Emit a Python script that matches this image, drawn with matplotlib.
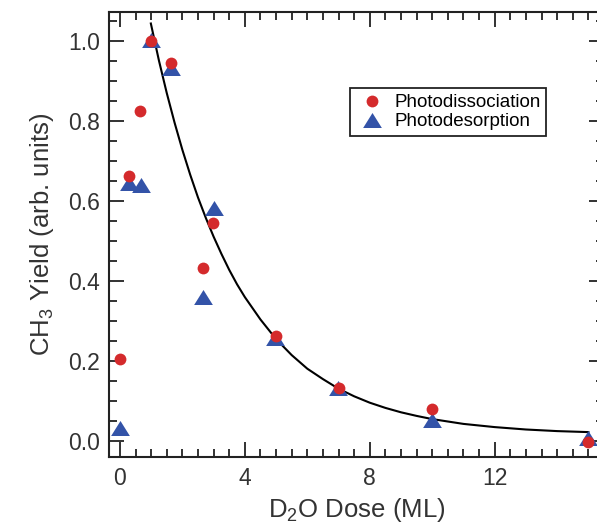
import numpy as np
import matplotlib
matplotlib.use("Agg")
import matplotlib.pyplot as plt
from matplotlib.ticker import MultipleLocator, FormatStrFormatter

plt.rcParams['font.family'] = ['Liberation Sans', 'DejaVu Sans']
plt.rcParams['mathtext.fontset'] = 'custom'
plt.rcParams['mathtext.rm'] = 'Liberation Sans'
plt.rcParams['mathtext.it'] = 'Liberation Sans'

# photodissociation (red circles)
diss_x = [0.0, 0.3, 0.64, 0.98, 1.65, 2.67, 2.99, 5.0, 7.0, 10.0, 15.0]
diss_y = [0.205, 0.662, 0.825, 1.0, 0.944, 0.431, 0.543, 0.263, 0.133, 0.08, -0.004]

# photodesorption (blue triangles)
des_x = [0.0, 0.3, 0.67, 1.0, 1.65, 2.67, 3.0, 4.95, 6.97, 10.0, 15.0]
des_y = [0.031, 0.645, 0.639, 1.003, 0.931, 0.36, 0.583, 0.256, 0.133, 0.053, 0.006]

# fitted decay curve
fit_x = [0.99, 1.25, 1.5, 1.75, 2.0, 2.25, 2.5, 2.75, 3.0, 3.25, 3.5, 3.75, 4.0, 4.5,
         5.0, 5.5, 6.0, 6.5, 7.0, 7.5, 8.0, 8.5, 9.0, 9.5, 10.0, 11.0, 12.0, 13.0, 14.0, 15.0]
fit_y = [1.043, 0.95, 0.869, 0.795, 0.727, 0.665, 0.608, 0.557, 0.51, 0.467, 0.427, 0.391,
         0.359, 0.303, 0.254, 0.214, 0.18, 0.154, 0.13, 0.111, 0.095, 0.082, 0.071, 0.062,
         0.054, 0.042, 0.034, 0.028, 0.024, 0.0215]

red = '#d42a2c'
blue = '#3353a8'
tri = [(0, 0.8), (-1, -0.8), (1, -0.8), (0, 0.8)]

W, H = 597, 523
fig = plt.figure(figsize=(W / 100, H / 100), dpi=100)
ax = fig.add_axes([109 / W, 1 - 457.3 / H, (604 - 109) / W, (457.3 - 12.3) / H])

ax.plot(fit_x, fit_y, color='black', lw=1.5, zorder=2)
ax.plot(diss_x, diss_y, 'o', color=red, ms=8.5, mec='none', zorder=4, label='Photodissociation')
ax.plot(des_x, des_y, marker=tri, ls='none', color=blue, ms=13.5, mec='none', zorder=3,
        label='Photodesorption')

ax.set_xlim(-0.35, 15.5)
ax.set_ylim(-0.0415, 1.071)
ax.xaxis.set_major_locator(MultipleLocator(4))
ax.xaxis.set_minor_locator(MultipleLocator(0.5))
ax.yaxis.set_major_locator(MultipleLocator(0.2))
ax.yaxis.set_minor_locator(MultipleLocator(0.05))
ax.yaxis.set_major_formatter(FormatStrFormatter('%.1f'))

ax.tick_params(which='both', direction='in', top=True, right=True, width=1.3, colors='#222222',
               labelcolor='#333333')
ax.tick_params(which='major', length=11, labelsize=16.5)
ax.tick_params(which='minor', length=5.5)
ax.tick_params(axis='y', which='major', pad=6.5)
ax.tick_params(axis='x', which='major', pad=7)
for s in ax.spines.values():
    s.set_linewidth(1.5)
    s.set_color('#222222')

ax.set_xlabel('D$_2$O Dose (ML)', fontsize=18.5, color='#333333', labelpad=4)
ax.set_ylabel('CH$_3$ Yield (arb. units)', fontsize=18.5, color='#333333', labelpad=9)

leg = ax.legend(loc='upper left', bbox_to_anchor=(0.487, 0.829), borderaxespad=0,
                fontsize=13.5, fancybox=False, edgecolor='#222222', framealpha=1,
                handletextpad=0.35, borderpad=0.3, labelspacing=0.1, handlelength=1.7)
leg.get_frame().set_linewidth(1.3)

fig.savefig('out.png', dpi=100)
